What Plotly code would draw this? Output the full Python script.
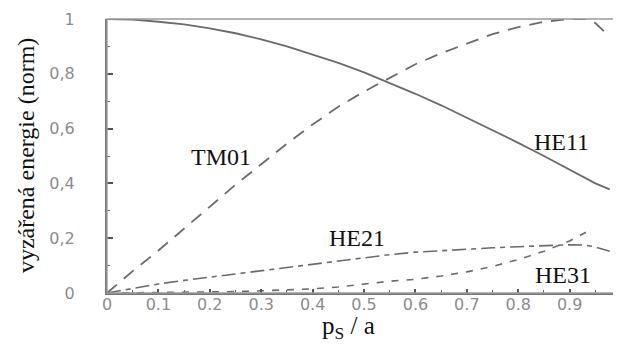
import plotly.graph_objects as go

# ---- data ----
x_he11 = [0, 0.05, 0.1, 0.15, 0.2, 0.25, 0.3, 0.35, 0.4, 0.45, 0.5, 0.55, 0.6, 0.65, 0.7, 0.75, 0.8, 0.85, 0.9, 0.95, 0.978]
y_he11 = [1.0, 0.998, 0.99, 0.98, 0.966, 0.948, 0.926, 0.90, 0.87, 0.84, 0.805, 0.767, 0.727, 0.685, 0.64, 0.595, 0.548, 0.50, 0.45, 0.40, 0.378]

x_tm01 = [0, 0.05, 0.1, 0.15, 0.2, 0.25, 0.3, 0.35, 0.4, 0.45, 0.5, 0.55, 0.6, 0.65, 0.7, 0.75, 0.8, 0.85, 0.9, 0.93, 0.95, 0.978]
y_tm01 = [0, 0.08, 0.155, 0.235, 0.315, 0.395, 0.47, 0.545, 0.615, 0.68, 0.735, 0.785, 0.835, 0.875, 0.91, 0.945, 0.97, 0.99, 1.0, 1.0, 0.985, 0.935]

x_he21 = [0, 0.05, 0.1, 0.15, 0.2, 0.25, 0.3, 0.35, 0.4, 0.45, 0.5, 0.55, 0.6, 0.65, 0.7, 0.75, 0.8, 0.85, 0.9, 0.93, 0.95, 0.978]
y_he21 = [0, 0.017, 0.033, 0.046, 0.058, 0.07, 0.082, 0.094, 0.106, 0.117, 0.128, 0.14, 0.149, 0.155, 0.16, 0.165, 0.169, 0.173, 0.176, 0.175, 0.168, 0.152]

x_he31 = [0, 0.1, 0.2, 0.25, 0.3, 0.35, 0.4, 0.45, 0.5, 0.55, 0.6, 0.65, 0.7, 0.75, 0.8, 0.85, 0.9, 0.945]
y_he31 = [0, 0.001, 0.003, 0.005, 0.008, 0.011, 0.015, 0.022, 0.032, 0.043, 0.05, 0.062, 0.077, 0.097, 0.122, 0.152, 0.19, 0.235]

x_tickvals = [0, 0.1, 0.2, 0.3, 0.4, 0.5, 0.6, 0.7, 0.8, 0.9]
x_ticktext = ["0", "0.1", "0.2", "0.3", "0.4", "0.5", "0.6", "0.7", "0.8", "0.9"]
y_tickvals = [0, 0.2, 0.4, 0.6, 0.8, 1.0]
y_ticktext = ["0", "0,2", "0,4", "0,6", "0,8", "1"]

labels = ["TM01", "HE11", "HE21", "HE31"]
label_x = [0.222, 0.884, 0.486, 0.887]
label_y = [0.496, 0.551, 0.200, 0.066]

LINE_COL = "#6b6b6b"
SERIF = "Liberation Serif"
TICKFONT = dict(family="DejaVu Sans", size=16, color="#8c8c8c")

fig = go.Figure()
fig.add_trace(go.Scatter(x=x_he11, y=y_he11, mode="lines",
                         line=dict(color=LINE_COL, width=1.8), name="HE11"))
fig.add_trace(go.Scatter(x=x_tm01, y=y_tm01, mode="lines",
                         line=dict(color=LINE_COL, width=1.8, dash="13px,9px"), name="TM01"))
fig.add_trace(go.Scatter(x=x_he21, y=y_he21, mode="lines",
                         line=dict(color=LINE_COL, width=1.6, dash="14px,5px,5px,5px"), name="HE21"))
fig.add_trace(go.Scatter(x=x_he31, y=y_he31, mode="lines",
                         line=dict(color=LINE_COL, width=1.6, dash="7px,8px"), name="HE31"))

for t, lx, ly in zip(labels, label_x, label_y):
    fig.add_annotation(x=lx, y=ly, xref="x", yref="y", text=t, showarrow=False,
                       font=dict(family=SERIF, size=24, color="#111"),
                       xanchor="center", yanchor="middle")

# frame (top/right lighter)
fig.add_shape(type="rect", xref="paper", yref="paper", x0=0, y0=0, x1=1, y1=1,
              line=dict(color="#9a9a9a", width=1.4), layer="above")

# tick label "1" at the right edge (outside of visible range)
fig.add_annotation(x=1 / 0.996, y=0, xref="paper", yref="paper", text="1",
                   showarrow=False, font=TICKFONT, xanchor="center", yanchor="top", yshift=-3)

# axis titles
fig.add_annotation(x=-0.158, y=0.5, xref="paper", yref="paper",
                   text="vyzářená energie (norm)", textangle=-90, showarrow=False,
                   font=dict(family=SERIF, size=24, color="#111"),
                   xanchor="center", yanchor="middle")
fig.add_annotation(x=0.472, y=-0.125, xref="paper", yref="paper",
                   text="p<sub>S</sub> / a", showarrow=False,
                   font=dict(family=SERIF, size=25, color="#111"),
                   xanchor="center", yanchor="middle")

# page body has an 8px default margin -> figure is shifted by 8px
fig.update_layout(
    width=613, height=337,
    margin=dict(l=99, r=2, t=11, b=52),
    paper_bgcolor="white", plot_bgcolor="white",
    showlegend=False,
    xaxis=dict(range=[0, 0.996], tickvals=x_tickvals, ticktext=x_ticktext,
               ticks="inside", ticklen=4, tickwidth=1.5, tickcolor="#555",
               minor=dict(dtick=0.05, tick0=0, ticks="inside", ticklen=3, tickwidth=1.2, tickcolor="#666"),
               showgrid=False, zeroline=False, showline=True, linecolor="#777", linewidth=2.2,
               tickfont=TICKFONT, ticklabelstandoff=-4),
    yaxis=dict(range=[0, 1.0], tickvals=y_tickvals, ticktext=y_ticktext,
               ticks="inside", ticklen=6, tickwidth=1.5, tickcolor="#555",
               minor=dict(dtick=0.1, tick0=0, ticks="inside", ticklen=3, tickwidth=1.2, tickcolor="#666"),
               showgrid=False, zeroline=False, showline=True, linecolor="#777", linewidth=2.2,
               tickfont=TICKFONT, ticklabelstandoff=27),
)

fig.write_html("out.html")
